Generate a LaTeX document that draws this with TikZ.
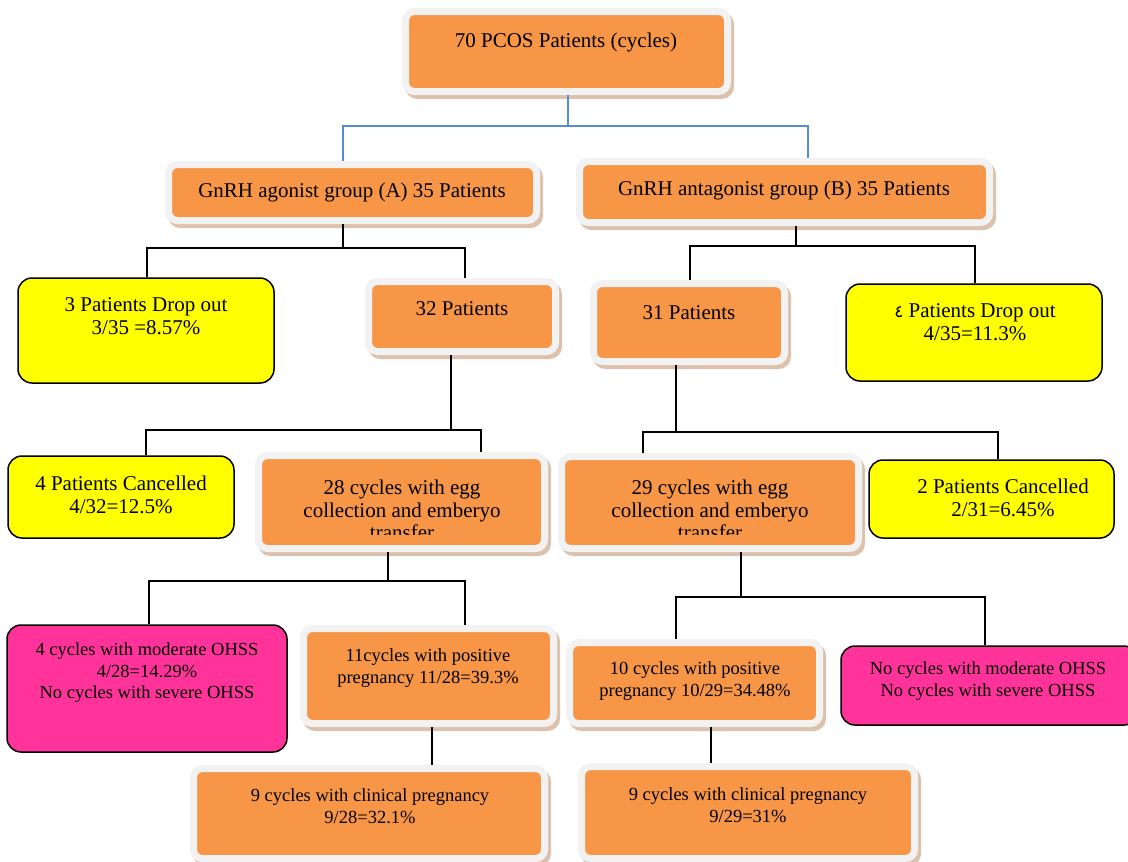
\documentclass[tikz,border=0pt]{standalone}
\usepackage{fontspec}
\setmainfont{Liberation Serif}
\newfontfamily\arabicfont[Script=Arabic]{DejaVu Sans}
\definecolor{orng}{HTML}{F79646}
\definecolor{frm}{HTML}{F2F2F2}
\definecolor{shd}{HTML}{DCC2AC}
\definecolor{ylw}{HTML}{FFFF00}
\definecolor{pnk}{HTML}{FF3399}
\definecolor{bln}{HTML}{548DD4}
\tikzset{
 obox/.style={draw=frm, line width=7pt, fill=orng, rounded corners=9pt, inner sep=0pt,
   preaction={draw=shd, fill=shd, transform canvas={shift={(3pt,-4pt)}}}},
 ybox/.style={draw=black, line width=1.5pt, fill=ylw, rounded corners=14pt, inner sep=0pt},
 pbox/.style={draw=black, line width=1.5pt, fill=pnk, rounded corners=14pt, inner sep=0pt},
 bigtxt/.style={font=\fontsize{21}{22.5}\selectfont, align=center, inner sep=0pt},
 smalltxt/.style={font=\fontsize{18.5}{21.5}\selectfont, align=center, inner sep=0pt},
 link/.style={line width=1.5pt, draw=black},
 blink/.style={line width=2.8pt, draw=bln},
}
\newcommand\orbox[5]{\node[obox, minimum width={#4-#2-7}, minimum height={#5-#3-7}] (#1) at ({(#2+#4)/2},{(#3+#5)/2}) {};}
\newcommand\ylbox[6]{\node[#6, minimum width={#4-#2}, minimum height={#5-#3}] (#1) at ({(#2+#4)/2},{(#3+#5)/2}) {};}
\begin{document}
\begin{tikzpicture}[x=1pt,y=-1pt]
\useasboundingbox (0,0) rectangle (1128,862);
\fill[white] (0,0) rectangle (1128,862);
% orange boxes
\orbox{top}{402}{8}{731}{95}
\orbox{agon}{165}{161}{540}{224}
\orbox{antag}{576}{158}{993}{226}
\orbox{p32}{365}{278}{559}{355}
\orbox{p31}{590}{280}{788}{365}
\orbox{c28}{255}{452}{548}{552}
\orbox{c29}{558}{453}{862}{552}
\orbox{pos11}{300}{625}{557}{727}
\orbox{pos10}{566}{639}{823}{727}
\orbox{cl9a}{190}{765}{548}{862}
\orbox{cl9b}{578}{763}{918}{862}
% yellow and pink boxes
\ylbox{y1}{18}{278}{274}{383}{ybox}
\ylbox{y2}{846}{284}{1102}{381}{ybox}
\ylbox{y3}{8}{456}{234}{538}{ybox}
\ylbox{y4}{869}{460}{1114}{538}{ybox}
\ylbox{pk1}{7}{625}{287}{752}{pbox}
\ylbox{pk2}{841}{646}{1138}{725}{pbox}
% texts
\node[bigtxt] (topt) at (566,42) {70 PCOS Patients (cycles)};
\node[bigtxt] (agont) at (352,192) {GnRH agonist group (A) 35 Patients};
\node[bigtxt] (antagt) at (784,190) {GnRH antagonist group (B) 35 Patients};
\node[bigtxt] (p32t) at (462,309) {32 Patients};
\node[bigtxt] (p31t) at (689,313) {31 Patients};
\node[bigtxt] (y1t) at (146,316) {3 Patients Drop out\\3/35 =8.57\%};
\node[bigtxt] (y2t) at (975,322) {{\arabicfont\fontsize{17}{17}\selectfont ٤} Patients Drop out\\4/35=11.3\%};
\node[bigtxt] (y3t) at (121,495) {4 Patients Cancelled\\4/32=12.5\%};
\node[bigtxt] (y4t) at (1003,498) {2 Patients Cancelled\\2/31=6.45\%};
\begin{scope}
\clip (263,460) rectangle (542,534);
\node[bigtxt] (c28t) at (402,510) {28 cycles with egg\\collection and emberyo\\transfer};
\end{scope}
\begin{scope}
\clip (566,461) rectangle (854,534);
\node[bigtxt] (c29t) at (710,510) {29 cycles with egg\\collection and emberyo\\transfer};
\end{scope}
\node[smalltxt] (pk1t) at (147,673) {4 cycles with moderate OHSS\\4/28=14.29\%\\No cycles with severe OHSS};
\node[smalltxt] (pk2t) at (988,681) {No cycles with moderate OHSS\\No cycles with severe OHSS};
\node[smalltxt] (pos11t) at (428,668) {11cycles with positive\\pregnancy 11/28=39.3\%};
\node[smalltxt] (pos10t) at (695,681) {10 cycles with positive\\pregnancy 10/29=34.48\%};
\node[smalltxt] (cl9at) at (370,806) {9 cycles with clinical pregnancy\\9/28=32.1\%};
\node[smalltxt] (cl9bt) at (748,805) {9 cycles with clinical pregnancy\\9/29=31\%};
% connector coordinates
\coordinate (a1) at (568,126); \coordinate (a2) at (343,126); \coordinate (a3) at (808,126);
\coordinate (b1) at (343,248); \coordinate (b2) at (147,248); \coordinate (b3) at (465,248);
\coordinate (c1) at (796,246); \coordinate (c2) at (690,246); \coordinate (c3) at (975,246);
\coordinate (d1) at (451,430); \coordinate (d2) at (146,430); \coordinate (d3) at (481,430);
\coordinate (e1) at (676,432); \coordinate (e2) at (643,432); \coordinate (e3) at (998,432);
\coordinate (f1) at (388,581); \coordinate (f2) at (149,581); \coordinate (f3) at (465,581);
\coordinate (g1) at (741,597); \coordinate (g2) at (676,597); \coordinate (g3) at (985,597);
\coordinate (h1) at (432,740); \coordinate (h2) at (711,740);
% connectors
\draw[blink] (top.south -| a1) -- (a1) -| (agon.north -| a2);
\draw[blink] (a1) -| (antag.north -| a3);
\draw[link] (agon.south -| b1) -- (b1) -| (y1.north -| b2);
\draw[link] (b1) -| (p32.north -| b3);
\draw[link] (antag.south -| c1) -- (c1) -| (p31.north -| c2);
\draw[link] (c1) -| (y2.north -| c3);
\draw[link] (p32.south -| d1) -- (d1) -| (y3.north -| d2);
\draw[link] (d1) -| (c28.north -| d3);
\draw[link] (p31.south -| e1) -- (e1) -| (c29.north -| e2);
\draw[link] (e1) -| (y4.north -| e3);
\draw[link] (c28.south -| f1) -- (f1) -| (pk1.north -| f2);
\draw[link] (f1) -| (pos11.north -| f3);
\draw[link] (c29.south -| g1) -- (g1) -| (pos10.north -| g2);
\draw[link] (g1) -| (pk2.north -| g3);
\draw[link] (pos11.south -| h1) -- (cl9a.north -| h1);
\draw[link] (pos10.south -| h2) -- (cl9b.north -| h2);
\end{tikzpicture}
\end{document}
